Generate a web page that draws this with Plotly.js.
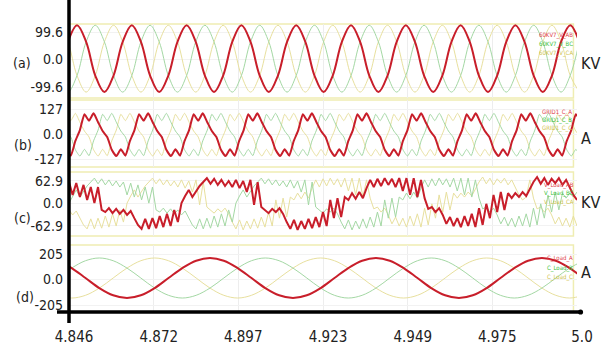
<!DOCTYPE html>
<html><head><meta charset="utf-8">
<script src="https://cdn.plot.ly/plotly-3.0.1.min.js"></script>
<style>html,body{margin:0;padding:0;background:#fff;}#chart{width:601px;height:347px;}</style>
</head><body><div id="chart"></div>
<script>
// ---- x axis ticks ----
const xTickVals = [4.846, 4.8717, 4.8973, 4.923, 4.9487, 4.9743, 5.0];
const xTickText = ['4.846', '4.872', '4.897', '4.923', '4.949', '4.975', '5.0'];

// ---- panel (a): 60KV7 line voltages, kV (sampled every 0.0027688 s) ----
const aStart = 4.84289, aStep = 0.0027688;
const aRed = [-58,64,
124,64,-58,-118,-58,64, 124,64,-58,-118,-58,64, 124,64,-58,-118,-58,64,
124,64,-58,-118,-58,64, 124,64,-58,-118,-58,64, 124,64,-58,-118,-58,64,
124,64,-58,-118,-58,64, 124,64,-58,-118,-58,64, 124,64,-58,-118,-58,64,
124,64];
const aGreen = [-58,-118,
-58,64,124,64,-58,-118, -58,64,124,64,-58,-118, -58,64,124,64,-58,-118,
-58,64,124,64,-58,-118, -58,64,124,64,-58,-118, -58,64,124,64,-58,-118,
-58,64,124,64,-58,-118, -58,64,124,64,-58,-118, -58,64,124,64,-58,-118,
-58,64];
const aYellow = [124,64,
-58,-118,-58,64,124,64, -58,-118,-58,64,124,64, -58,-118,-58,64,124,64,
-58,-118,-58,64,124,64, -58,-118,-58,64,124,64, -58,-118,-58,64,124,64,
-58,-118,-58,64,124,64, -58,-118,-58,64,124,64, -58,-118,-58,64,124,64,
-58,-118];
const aNames = ['60KV7_V_AB', '60KV7_V_BC', '60KV7_V_CA'];

// ---- panel (b): GRID1 currents, A (sampled every 0.0013793 s) ----
const bStart = 4.8451665, bStep = 0.0013793;
const bRed = [-78,-110,-35,20,100,
68,105,60,15,-15,-80,-112,-78,-110,-35,20,100, 68,105,60,15,-15,-80,-112,-78,-110,-35,20,100,
68,105,60,15,-15,-80,-112,-78,-110,-35,20,100, 68,105,60,15,-15,-80,-112,-78,-110,-35,20,100,
68,105,60,15,-15,-80,-112,-78,-110,-35,20,100, 68,105,60,15,-15,-80,-112,-78,-110,-35,20,100,
68,105,60,15,-15,-80,-112,-78,-110,-35,20,100, 68,105,60,15,-15,-80,-112,-78,-110,-35,20,100,
68,105,60,15,-15,-80,-112,-78,-110,-35,20,100,
68];
const bGreen = [15,-15,-80,-112,-78,
-110,-35,20,100,68,105,60,15,-15,-80,-112,-78, -110,-35,20,100,68,105,60,15,-15,-80,-112,-78,
-110,-35,20,100,68,105,60,15,-15,-80,-112,-78, -110,-35,20,100,68,105,60,15,-15,-80,-112,-78,
-110,-35,20,100,68,105,60,15,-15,-80,-112,-78, -110,-35,20,100,68,105,60,15,-15,-80,-112,-78,
-110,-35,20,100,68,105,60,15,-15,-80,-112,-78, -110,-35,20,100,68,105,60,15,-15,-80,-112,-78,
-110,-35,20,100,68,105,60,15,-15,-80,-112,-78,
-110];
const bYellow = [100,68,105,60,15,
-15,-80,-112,-78,-110,-35,20,100,68,105,60,15, -15,-80,-112,-78,-110,-35,20,100,68,105,60,15,
-15,-80,-112,-78,-110,-35,20,100,68,105,60,15, -15,-80,-112,-78,-110,-35,20,100,68,105,60,15,
-15,-80,-112,-78,-110,-35,20,100,68,105,60,15, -15,-80,-112,-78,-110,-35,20,100,68,105,60,15,
-15,-80,-112,-78,-110,-35,20,100,68,105,60,15, -15,-80,-112,-78,-110,-35,20,100,68,105,60,15,
-15,-80,-112,-78,-110,-35,20,100,68,105,60,15,
-15];
const bNames = ['GRID1_C_A', 'GRID1_C_B', 'GRID1_C_C'];

// ---- panel (c): load line voltages, kV (sampled every 0.0011 s) ----
const cStart = 4.846, cStep = 0.0011;
const cRed = [60,24,57,18,52,10,46,1,46,-18,
-24,-13,-27,-15,-29,-18,-32,-21,-41,-60,
-71,-43,-71,-41,-69,-35,-66,-29,-63,-18,
-52,1,21,38,18,35,49,60,71,55,
69,52,66,49,63,46,66,43,63,32,
66,-4,60,-10,-18,-27,-15,-24,-13,-29,
-52,-71,-46,-74,-49,-71,-43,-69,-38,-66,
-24,-63,10,-41,15,-38,18,10,29,13,
32,15,43,66,46,69,49,71,52,69,
46,71,35,71,24,71,18,66,15,-15,
-10,-24,-13,-32,-57,-38,-63,-41,-66,-35,
-63,-29,-66,-13,-60,-1,-41,24,-24,32,
-18,29,15,29,18,32,21,43,60,74,
55,71,52,69,57,71,52,66,43,24,
10];
const cGreen = [1,21,38,18,35,49,60,71,55,69,52,66,49,63,46,
60,24,57,18,52,10,46,1,46,-18,
-24,-13,-27,-15,-29,-18,-32,-21,-41,-60,
-71,-43,-71,-41,-69,-35,-66,-29,-63,-18,
-52,1,21,38,18,35,49,60,71,55,
69,52,66,49,63,46,66,43,63,32,
66,-4,60,-10,-18,-27,-15,-24,-13,-29,
-52,-71,-46,-74,-49,-71,-43,-69,-38,-66,
-24,-63,10,-41,15,-38,18,10,29,13,
32,15,43,66,46,69,49,71,52,69,
46,71,35,71,24,71,18,66,15,-15,
-10,-24,-13,-32,-57,-38,-63,-41,-66,-35,
-63,-29,-66,-13,-60,-1,-41,24,-24,32,
-18,29,15,29,18,32];
const cYellow = [-18,-32,-21,-41,-60,
-71,-43,-71,-41,-69,-35,-66,-29,-63,-18,
-52,1,21,38,18,35,49,60,71,55,
69,52,66,49,63,46,66,43,63,32,
66,-4,60,-10,-18,-27,-15,-24,-13,-29,
-52,-71,-46,-74,-49,-71,-43,-69,-38,-66,
-24,-63,10,-41,15,-38,18,10,29,13,
32,15,43,66,46,69,49,71,52,69,
46,71,35,71,24,71,18,66,15,-15,
-10,-24,-13,-32,-57,-38,-63,-41,-66,-35,
-63,-29,-66,-13,-60,-1,-41,24,-24,32,
-18,29,15,29,18,32,21,43,60,74,
55,71,52,69,57,71,52,66,43,24,
10,
18,66,15,-15,-10,-24,-13,-32,-57,-38,-63,-41,-66,-35,-63];
const cNames = ['V_Load_AB', 'V_Load_BC', 'V_Load_CA'];

// ---- panel (d): load currents, A (sampled every 0.004193 s) ----
const dStart = 4.842615, dStep = 0.004193;
const dRed = [151,92,12,-69,-127,
-149,-127,-69,12,92,151,173,151,92,12,-69,-127,
-149,-127,-69,12,92,151,173,151,92,12,-69,-127,
-149,-127,-69,12,92,151,173,151,92,12];
const dGreen = [12,92,151,173,151,
92,12,-69,-127,-149,-127,-69,12,92,151,173,151,
92,12,-69,-127,-149,-127,-69,12,92,151,173,151,
92,12,-69,-127,-149,-127,-69,12,92,151];
const dYellow = [-127,-149,-127,-69,12,
92,151,173,151,92,12,-69,-127,-149,-127,-69,12,
92,151,173,151,92,12,-69,-127,-149,-127,-69,12,
92,151,173,151,92,12,-69,-127,-149,-127];
const dNames = ['C_Load_A', 'C_Load_B', 'C_Load_C'];

// ---- y axis ticks / units ----
const yTicks = [[-99.6, 0, 99.6], [-127, 0, 127], [-62.9, 0, 62.9], [-205, 0, 205]];
const yTickText = [['-99.6', '0.0', '99.6'], ['-127', '0.0', '127'], ['-62.9', '0.0', '62.9'], ['-205', '0.0', '205']];
const units = ['KV', 'A', 'KV', 'A'];
const panelTags = ['(a)', '(b)', '(c)', '(d)'];

// ---- styling ----
const FONT = '"Liberation Sans Narrow", "Arial Narrow", "DejaVu Sans Condensed", sans-serif';
const RED = '#c81e2a', GREEN = '#a4d8a4', YELLOW = '#e8e09e';
const LEG_COL = ['#e0404a', '#3cbf3c', '#cfc24a'];

function grid(start, step, n) { const t = []; for (let i = 0; i < n; i++) t.push(start + i * step); return t; }

const panels = [
  {start: aStart, step: aStep, series: [aYellow, aGreen, aRed], names: aNames, shape: 'spline', smooth: 1, range: [-139.4, 128.6], dom: [0.7379, 0.9931]},
  {start: bStart, step: bStep, series: [bYellow, bGreen, bRed], names: bNames, shape: 'spline', smooth: 0.5, range: [-167.6, 172.7], dom: [0.5, 0.7310]},
  {start: cStart, step: cStep, series: [cYellow, cGreen, cRed], names: cNames, shape: 'linear', smooth: 0, range: [-90.9, 88.1], dom: [0.2621, 0.4828]},
  {start: dStart, step: dStep, series: [dYellow, dGreen, dRed], names: dNames, shape: 'spline', smooth: 1, range: [-261.3, 277.4], dom: [0.0, 0.2310]}
];

const traces = [];
const layout = {
  width: 601, height: 347,
  margin: {l: 69, r: 24, t: 22, b: 35},
  paper_bgcolor: '#ffffff', plot_bgcolor: '#ffffff',
  showlegend: false,
  font: {family: FONT, size: 14, color: '#222'},
  shapes: [], annotations: []
};
const colors = [YELLOW, GREEN, RED];
const widths = [1, 1, 2];
const nameOrder = [2, 1, 0];
const legendRows = [[0.955, 0.924, 0.893], [0.6897, 0.6621, 0.6345], [0.4379, 0.4103, 0.3793], [0.1862, 0.1517, 0.1207]];
const legendX = [0.921, 0.927, 0.931, 0.937];
const tagY = [0.8586, 0.5759, 0.324, 0.0517];
const tagX = [-0.0925, -0.0905, -0.0925, -0.0866];
const unitY = [0.8586, 0.6, 0.3759, 0.1379];

panels.forEach((p, k) => {
  const sfx = k === 0 ? '' : String(k + 1);
  p.series.forEach((ys, j) => {
    traces.push({
      type: 'scatter', mode: 'lines',
      x: grid(p.start, p.step, ys.length), y: ys,
      name: p.names[nameOrder[j]],
      xaxis: 'x' + sfx, yaxis: 'y' + sfx,
      line: {color: colors[j], width: widths[j], shape: p.shape, smoothing: p.smooth},
      hoverinfo: 'skip'
    });
  });
  layout['xaxis' + sfx] = {
    domain: [0, 1], anchor: 'y' + sfx, range: [4.846, 5.0], autorange: false,
    tickmode: 'array', tickvals: xTickVals, ticktext: xTickText,
    showticklabels: k === 3, ticks: '', showgrid: true, gridcolor: '#ededed', gridwidth: 1,
    zeroline: false, showline: false,
    ticklabelshift: 5, ticklabelstandoff: 14,
    tickfont: {family: FONT, size: 15, color: '#222'}
  };
  layout['yaxis' + sfx] = {
    domain: p.dom, anchor: 'x' + sfx, range: p.range, autorange: false,
    tickmode: 'array', tickvals: yTicks[k], ticktext: yTickText[k],
    ticks: '', showgrid: true, gridcolor: '#f2f2f2', zeroline: false, showline: false,
    ticklabelstandoff: 5,
    tickfont: {family: FONT, size: 14, color: '#222'}
  };
  layout.shapes.push({type: 'rect', xref: 'paper', yref: 'paper', x0: 0, x1: 0.993, y0: p.dom[0], y1: p.dom[1],
    line: {color: '#efedb2', width: 1.5}, layer: 'below'});
  p.names.forEach((nm, j) => {
    layout.annotations.push({xref: 'paper', yref: 'paper', x: legendX[k], y: legendRows[k][j], xanchor: 'left', yanchor: 'middle',
      text: nm, showarrow: false, font: {family: FONT, size: 6, color: LEG_COL[j]}});
  });
  layout.annotations.push({xref: 'paper', yref: 'paper', x: tagX[k], y: tagY[k], xanchor: 'center', yanchor: 'middle',
    text: panelTags[k], showarrow: false, font: {family: FONT, size: 14, color: '#222'}});
  layout.annotations.push({xref: 'paper', yref: 'paper', x: 1.0, y: unitY[k], xanchor: 'left', yanchor: 'middle', xshift: 2,
    text: units[k], showarrow: false, font: {family: FONT, size: 16, color: '#222'}});
});

layout.shapes.push({type: 'line', xref: 'paper', yref: 'paper', x0: 0, x1: 0, y0: -0.038, y1: 1.076, line: {color: '#000', width: 3.5}});
layout.shapes.push({type: 'line', xref: 'paper', yref: 'paper', x0: -0.0236, x1: 1.006, y0: 0, y1: 0, line: {color: '#000', width: 3.5}});
layout.shapes.push({type: 'circle', xref: 'paper', yref: 'paper', x0: 1.002, x1: 1.012, y0: -0.009, y1: 0.009, fillcolor: '#000', line: {color: '#000', width: 0}});

Plotly.newPlot('chart', traces, layout, {displayModeBar: false, staticPlot: true});
</script>
</body></html>
